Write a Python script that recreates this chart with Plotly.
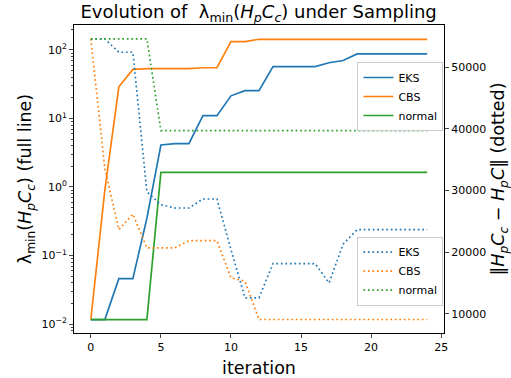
import plotly.graph_objects as go

iterations = list(range(25))

# lambda_min (left log axis, solid)
eks_lam = [0.0116, 0.0116, 0.046, 0.046, 0.35, 4.1, 4.3, 4.3, 11.0, 11.0, 21.4, 25.5, 25.5,
           57, 57, 57, 57, 65, 70, 87.5, 87.5, 87.5, 87.5, 87.5, 87.5]
cbs_lam = [0.0116, 0.9, 29, 52, 53.5, 53.5, 53.5, 53.5, 55, 55, 132, 132, 143,
           143, 143, 143, 143, 143, 143, 143, 143, 143, 143, 143, 143]
normal_lam = [0.0116, 0.0116, 0.0116, 0.0116, 0.0116] + [1.63] * 20

# norm difference (right linear axis, dotted)
eks_norm = [54600, 54600, 52430, 52430, 29800, 27700, 27170, 27170, 28630, 28630, 20430, 12590, 12590,
            18150, 18150, 18150, 18150, 15020, 21300, 23650, 23650, 23650, 23650, 23650, 23650]
cbs_norm = [54600, 33580, 23650, 26190, 20690, 20690, 20690, 21870, 21870, 21870, 15830, 15290, 9080,
            9080, 9080, 9080, 9080, 9080, 9080, 9080, 9080, 9080, 9080, 9080, 9080]
normal_norm = [54600, 54600, 54600, 54600, 54600] + [39730] * 20

names = ["EKS", "CBS", "normal"]
colors = ["#1f77b4", "#ff7f0e", "#2ca02c"]
left_ticks = [0.01, 0.1, 1, 10, 100]
left_ticktext = ["10<sup>−2</sup>", "10<sup>−1</sup>", "10<sup>0</sup>", "10<sup>1</sup>", "10<sup>2</sup>"]
right_ticks = [10000, 20000, 30000, 40000, 50000]

fig = go.Figure()
for name, col, ys in zip(names, colors, [eks_lam, cbs_lam, normal_lam]):
    fig.add_trace(go.Scatter(x=iterations, y=ys, mode="lines", name=name,
                             line=dict(color=col, width=1.67), legend="legend", yaxis="y"))
for name, col, ys in zip(names, colors, [eks_norm, cbs_norm, normal_norm]):
    fig.add_trace(go.Scatter(x=iterations, y=ys, mode="lines", name=name,
                             line=dict(color=col, width=1.67, dash="1.7px,2.8px"),
                             legend="legend2", yaxis="y2"))

minor_vals = [m * 10 ** e for e in range(-3, 3) for m in range(2, 10)]

tickfont = dict(family="DejaVu Sans", size=11, color="black")
fig.update_layout(
    width=511, height=378,
    margin=dict(l=73.5, r=67, t=25, b=44.5),
    paper_bgcolor="white", plot_bgcolor="white",
    font=dict(family="DejaVu Sans", color="black"),
    title=dict(text="Evolution of  λ<sub>min</sub>(<i>H<sub>p</sub>C<sub>c</sub></i>) under Sampling",
               x=0.506, xanchor="center", y=1 - 12 / 378, yanchor="middle", yref="container",
               font=dict(size=18, family="DejaVu Sans")),
    xaxis=dict(range=[-1.2, 25.2], tickmode="linear", tick0=0, dtick=5, ticks="outside",
               ticklen=4, tickwidth=1, showline=True, linecolor="black", linewidth=1, mirror=True,
               showgrid=False, zeroline=False, tickfont=tickfont, automargin=False,
               title=dict(text="iteration", font=dict(size=17.5), standoff=10)),
    yaxis=dict(type="log", range=[-2.131, 2.364], tickmode="array", tickvals=left_ticks,
               ticktext=left_ticktext, ticks="outside", ticklen=4, tickwidth=1,
               showline=True, linecolor="black", linewidth=1, showgrid=False, zeroline=False,
               tickfont=tickfont, automargin=False,
               minor=dict(tickmode="array", tickvals=minor_vals, ticks="outside", ticklen=2,
                          tickwidth=0.8, showgrid=False),
               title=dict(text="λ<sub>min</sub>(<i>H<sub>p</sub>C<sub>c</sub></i>) (full line)",
                          font=dict(size=17.5), standoff=5)),
    yaxis2=dict(overlaying="y", side="right", range=[6890, 56850], tickmode="array",
                tickvals=right_ticks, tickformat="d", ticks="outside", ticklen=4, tickwidth=1,
                showline=True, linecolor="black", linewidth=1, showgrid=False, zeroline=False,
                tickfont=tickfont, automargin=False,
                title=dict(text="‖<i>H<sub>p</sub>C<sub>c</sub></i> − <i>H<sub>p</sub>C</i>‖ (dotted)",
                           font=dict(size=17.5), standoff=9)),
    legend=dict(x=0.766, y=0.88, xanchor="left", yanchor="top",
                bgcolor="rgba(255,255,255,0.8)", bordercolor="#cccccc", borderwidth=1,
                font=dict(size=11), itemwidth=30, tracegroupgap=0),
    legend2=dict(x=0.766, y=0.313, xanchor="left", yanchor="top",
                 bgcolor="rgba(255,255,255,0.8)", bordercolor="#cccccc", borderwidth=1,
                 font=dict(size=11), itemwidth=30, tracegroupgap=0),
)

fig.write_html("out.html")
